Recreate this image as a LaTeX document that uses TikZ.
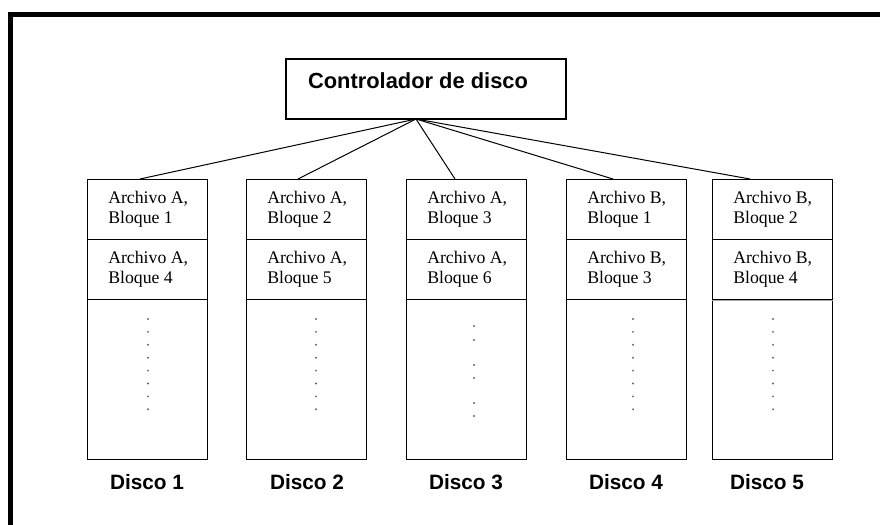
\documentclass[tikz,border=0pt]{standalone}
\usepackage{fontspec}
\setmainfont{Liberation Serif}
\newfontfamily\lsans{Liberation Sans}
\begin{document}
\begin{tikzpicture}[x=0.75pt,y=-0.75pt,
  boxline/.style={draw=black, line width=1pt},
  cellbox/.style={boxline, minimum width=90pt, minimum height=45pt, inner sep=0pt, anchor=north west},
  restbox/.style={boxline, minimum width=90pt, minimum height=120pt, inner sep=0pt, anchor=north west},
  celltext/.style={anchor=west, align=left, font=\fontsize{13.3}{15}\selectfont, inner sep=0pt},
  bigsans/.style={font=\lsans\bfseries\fontsize{15.6}{18}\selectfont, inner sep=0pt},
  conn/.style={line width=0.75pt},
  vdot/.style={circle, fill=black!60, inner sep=0pt, minimum size=1.6pt}]
\useasboundingbox (0,0) rectangle (880,524);
\fill[white] (0,0) rectangle (880,524);
% outer frame
\draw[line width=3.75pt, line join=miter] (10.5,530) -- (10.5,15) -- (885,15);
% controller
\node[boxline, minimum width=210pt, minimum height=45pt, inner sep=0pt] (ctrl) at (426,89) {};
\node[bigsans, font=\lsans\bfseries\fontsize{16.4}{19}\selectfont] (ctrltext) at (418,81) {Controlador de disco};
\coordinate (hub) at (416,119);
% disks
\foreach \i/\x/\tx/\lx/\A/\B/\C/\D in {
  1/87/140/147/{Archivo A,}/{Bloque 1}/{Archivo A,}/{Bloque 4},
  2/246/298/307/{Archivo A,}/{Bloque 2}/{Archivo A,}/{Bloque 5},
  3/406/455/466/{Archivo A,}/{Bloque 3}/{Archivo A,}/{Bloque 6},
  4/566/613/626/{Archivo B,}/{Bloque 1}/{Archivo B,}/{Bloque 3},
  5/712/750/767/{Archivo B,}/{Bloque 2}/{Archivo B,}/{Bloque 4}}{
  \node[cellbox] (c\i a) at (\x,179) {};
  \node[cellbox] (c\i b) at (\x,239) {};
  \node[restbox] (r\i) at (\x,299) {};
  \node[celltext] (t\i a) at (\x+21,209) {\A\\\B};
  \node[celltext] (t\i b) at (\x+21,269) {\C\\\D};
  \node[bigsans] (l\i) at (\lx,482) {Disco \i};
  \coordinate (top\i) at (\tx,179);
  \draw[conn] (hub) -- (top\i);
}
\draw[black!35, line width=1pt] (c5b.south west) -- (c5b.south east);
% dots
\foreach \i/\dx in {1/148, 2/316, 4/633, 5/773}{
  \foreach \k in {0,...,7}{
    \node[vdot] (dot\i-\k) at (\dx,319+12.9*\k) {};
  }
}
\foreach \k/\dy in {0/326, 1/340, 2/365, 3/378, 4/403, 5/416}{
  \node[vdot] (dot3-\k) at (474,\dy) {};
}
\end{tikzpicture}
\end{document}
